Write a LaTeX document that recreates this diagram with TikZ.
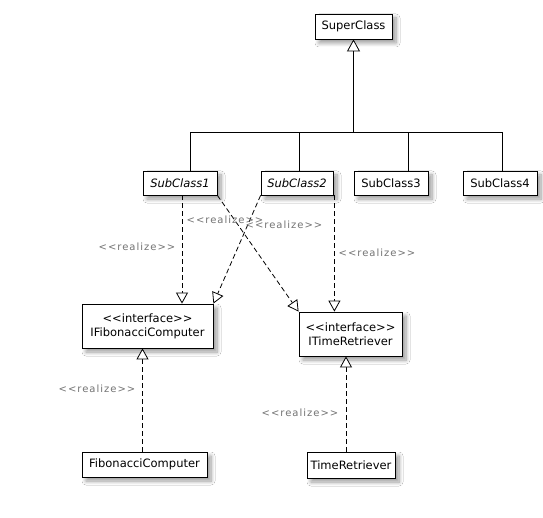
\documentclass[tikz,border=0pt]{standalone}
\usepackage{fontspec}
\setmainfont{DejaVu Sans}
\newfontfamily\lblfont[LetterSpace=10]{DejaVu Sans}
\usetikzlibrary{arrows.meta,shadows.blur,calc}
\newcommand{\ltlt}{<{}<}
\newcommand{\gtgt}{>{}>}
\begin{document}
\begin{tikzpicture}[x=1pt,y=-1pt,
  cls/.style={draw=black,line width=0.8pt,fill=white,inner sep=2pt,font=\fontsize{11.5}{14}\selectfont,align=center,
    blur shadow={shadow xshift=4pt,shadow yshift=-4pt,shadow blur steps=8,shadow blur radius=4pt,shadow opacity=40}},
  gen/.style={draw=black,line width=0.8pt,-{Triangle[fill=white,length=12pt,width=13pt,line width=0.8pt]}},
  real/.style={draw=black,line width=0.8pt,dash pattern=on 5pt off 3pt,-{Triangle[fill=white,length=11pt,width=12pt,line width=0.8pt]}},
  lbl/.style={text=black!55,font=\lblfont\fontsize{10}{12}\selectfont,inner sep=1pt}]
\useasboundingbox[fill=white] (0,0) rectangle (543,518);
\node[cls,minimum width=77pt,minimum height=25pt] (super) at (353.5,26.5) {SuperClass};
\node[cls,minimum width=74pt,minimum height=24pt] (sub1) at (180,183) {\itshape SubClass1};
\node[cls,minimum width=72pt,minimum height=24pt] (sub2) at (297,183) {\itshape SubClass2};
\node[cls,minimum width=74pt,minimum height=24pt] (sub3) at (391,183) {SubClass3};
\node[cls,minimum width=74pt,minimum height=24pt] (sub4) at (500,183) {SubClass4};
\node[cls,minimum width=131pt,minimum height=44pt] (ifib) at (147.5,326) {\ltlt interface\gtgt\\IFibonacciComputer};
\node[cls,minimum width=103pt,minimum height=44pt] (itime) at (350.5,334) {\ltlt interface\gtgt\\ITimeRetriever};
\node[cls,minimum width=125pt,minimum height=25pt] (fib) at (144.5,464.5) {FibonacciComputer};
\node[cls,minimum width=88pt,minimum height=26pt] (time) at (351,465) {TimeRetriever};
% generalization
\coordinate (bus) at (super.south |- 0,132);
\draw[gen] (bus) -- (super.south);
\draw[line width=0.8pt] ($(sub1.north)+(10,0)$) |- (bus);
\draw[line width=0.8pt] ($(sub2.north)+(2,0)$) |- (bus);
\draw[line width=0.8pt] ($(sub3.north)+(17,0)$) |- (bus);
\draw[line width=0.8pt] ($(sub4.north)+(2,0)$) |- (bus);
% realizations
\draw[real] ($(sub1.south)+(2,0)$) -- ($(sub1.south |- ifib.north)+(2,0)$);
\draw[real] (sub1.south east) -- (itime.north west);
\draw[real] (sub2.south west) -- (ifib.north east);
\draw[real] ($(sub2.south east)+(1,0)$) -- ($(sub2.south east |- itime.north)+(1,0)$);
\draw[real] ($(fib.north)+(-2,0)$) -- ($(fib.north |- ifib.south)+(-2,0)$);
\draw[real] ($(time.north)+(-5,0)$) -- ($(time.north |- itime.south)+(-5,0)$);
% labels
\node[lbl] (l1) at (137,247) {\ltlt realize\gtgt};
\node[lbl] (l2) at (225,220) {\ltlt realize\gtgt};
\node[lbl] (l3) at (284,225) {\ltlt realize\gtgt};
\node[lbl] (l4) at (377,253) {\ltlt realize\gtgt};
\node[lbl] (l5) at (97,389) {\ltlt realize\gtgt};
\node[lbl] (l6) at (300,413) {\ltlt realize\gtgt};
\end{tikzpicture}
\end{document}
